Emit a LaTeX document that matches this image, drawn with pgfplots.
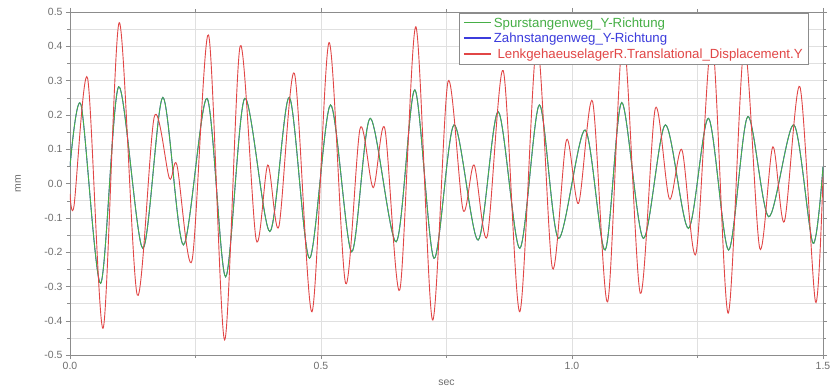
\documentclass[border=0pt]{standalone}
\usepackage{pgfplots}
\pgfplotsset{compat=1.18}
\usepackage{fontspec}
\setmainfont{Liberation Sans}
\definecolor{grn}{RGB}{70,175,70}
\definecolor{blu}{RGB}{60,60,220}
\definecolor{rd}{RGB}{225,70,70}
\definecolor{lbl}{RGB}{110,110,110}
\newcommand{\legline}[1]{{\color{#1}\rule[0.3em]{27bp}{1.8bp}}\hspace{3bp}}
\begin{document}
\begin{tikzpicture}
\path[use as bounding box] (-70bp,-37bp) rectangle (764bp,355bp);
\begin{axis}[
  at={(0,0)}, anchor=south west,
  width=753bp, height=343bp, scale only axis,
  xmin=0, xmax=1.5, ymin=-0.5, ymax=0.5,
  xtick={0,0.5,1,1.5},
  minor xtick={0.25,0.75,1.25},
  ytick={-0.5,-0.4,-0.3,-0.2,-0.1,0,0.1,0.2,0.3,0.4,0.5},
  minor ytick={-0.45,-0.35,-0.25,-0.15,-0.05,0.05,0.15,0.25,0.35,0.45},
  grid=both,
  major grid style={draw=black!12},
  minor grid style={draw=black!12},
  axis line style={draw=black!45, line width=0.8bp},
  tick style={draw=black!45},
  tick align=outside,
  major tick length=4bp, minor tick length=2.5bp,
  /pgf/number format/assume math mode=true,
  xticklabel style={/pgf/number format/fixed, /pgf/number format/fixed zerofill, /pgf/number format/precision=1},
  yticklabel style={/pgf/number format/fixed, /pgf/number format/fixed zerofill, /pgf/number format/precision=1},
  tick label style={font=\fontsize{10.5}{12}\selectfont, text=lbl},
  xlabel={sec}, ylabel={mm},
  label style={font=\fontsize{10.5}{12}\selectfont, text=lbl},
  xlabel style={at={(axis description cs:0.5,-0.082)}, anchor=center},
  ylabel style={at={(axis description cs:-0.069,0.5)}, anchor=center},
  legend style={at={(rel axis cs:0.98,0.997)}, anchor=north east, draw=black!45, fill=white,
    font=\fontsize{13.3}{14}\selectfont, row sep=0.5bp, inner xsep=3bp, inner ysep=2.5bp,
    nodes={inner xsep=2bp}},
  legend cell align=left,
  legend image code/.code={},
]
\addplot[blu, line width=0.9bp, smooth, forget plot] coordinates {
(0.000,0.050) (0.022,0.229) (0.061,-0.291) (0.097,0.282) (0.145,-0.189) (0.185,0.251)
(0.226,-0.179) (0.273,0.248) (0.310,-0.272) (0.348,0.248) (0.398,-0.140) (0.437,0.251)
(0.477,-0.218) (0.519,0.229) (0.561,-0.199) (0.598,0.190) (0.650,-0.170) (0.687,0.273)
(0.725,-0.218) (0.765,0.171) (0.813,-0.165) (0.853,0.209) (0.896,-0.189) (0.935,0.229)
(0.973,-0.160) (1.026,0.156) (1.066,-0.194) (1.099,0.236) (1.142,-0.160) (1.186,0.171)
(1.232,-0.131) (1.272,0.190) (1.312,-0.194) (1.350,0.195) (1.392,-0.097) (1.442,0.171)
(1.480,-0.174) (1.500,0.049)};
\addplot[grn, line width=0.9bp, smooth, forget plot] coordinates {
(0.000,0.050) (0.022,0.229) (0.061,-0.291) (0.097,0.282) (0.145,-0.189) (0.185,0.251)
(0.226,-0.179) (0.273,0.248) (0.310,-0.272) (0.348,0.248) (0.398,-0.140) (0.437,0.251)
(0.477,-0.218) (0.519,0.229) (0.561,-0.199) (0.598,0.190) (0.650,-0.170) (0.687,0.273)
(0.725,-0.218) (0.765,0.171) (0.813,-0.165) (0.853,0.209) (0.896,-0.189) (0.935,0.229)
(0.973,-0.160) (1.026,0.156) (1.066,-0.194) (1.099,0.236) (1.142,-0.160) (1.186,0.171)
(1.232,-0.131) (1.272,0.190) (1.312,-0.194) (1.350,0.195) (1.392,-0.097) (1.442,0.171)
(1.480,-0.174) (1.500,0.049)};
\addplot[rd, line width=0.9bp, smooth, forget plot] coordinates {
(0.000,-0.030) (0.008,-0.065) (0.035,0.307) (0.066,-0.422) (0.098,0.469) (0.134,-0.325)
(0.168,0.195) (0.198,0.015) (0.213,0.054) (0.243,-0.225) (0.276,0.433) (0.308,-0.456)
(0.339,0.401) (0.371,-0.165) (0.394,0.054) (0.416,-0.126) (0.447,0.321) (0.482,-0.374)
(0.516,0.411) (0.549,-0.291) (0.578,0.161) (0.604,-0.012) (0.627,0.161) (0.657,-0.310)
(0.689,0.457) (0.722,-0.398) (0.753,0.297) (0.783,-0.077) (0.805,0.054) (0.831,-0.155)
(0.863,0.329) (0.896,-0.374) (0.930,0.410) (0.961,-0.247) (0.989,0.127) (1.013,-0.058)
(1.041,0.239) (1.071,-0.345) (1.102,0.430) (1.136,-0.320) (1.166,0.219) (1.194,-0.045)
(1.219,0.098) (1.247,-0.204) (1.279,0.420) (1.311,-0.378) (1.343,0.400) (1.374,-0.189)
(1.400,0.107) (1.423,-0.111) (1.454,0.282) (1.485,-0.345) (1.500,0.020)};
\addlegendimage{empty legend}
\addlegendentry{\legline{grn}\textcolor{grn}{Spurstangenweg\_Y-Richtung}}
\addlegendimage{empty legend}
\addlegendentry{\legline{blu}\textcolor{blu}{Zahnstangenweg\_Y-Richtung}}
\addlegendimage{empty legend}
\addlegendentry{\legline{rd}\textcolor{rd}{\ LenkgehaeuselagerR.Translational\_Displacement.Y}}
\end{axis}
\end{tikzpicture}
\end{document}
